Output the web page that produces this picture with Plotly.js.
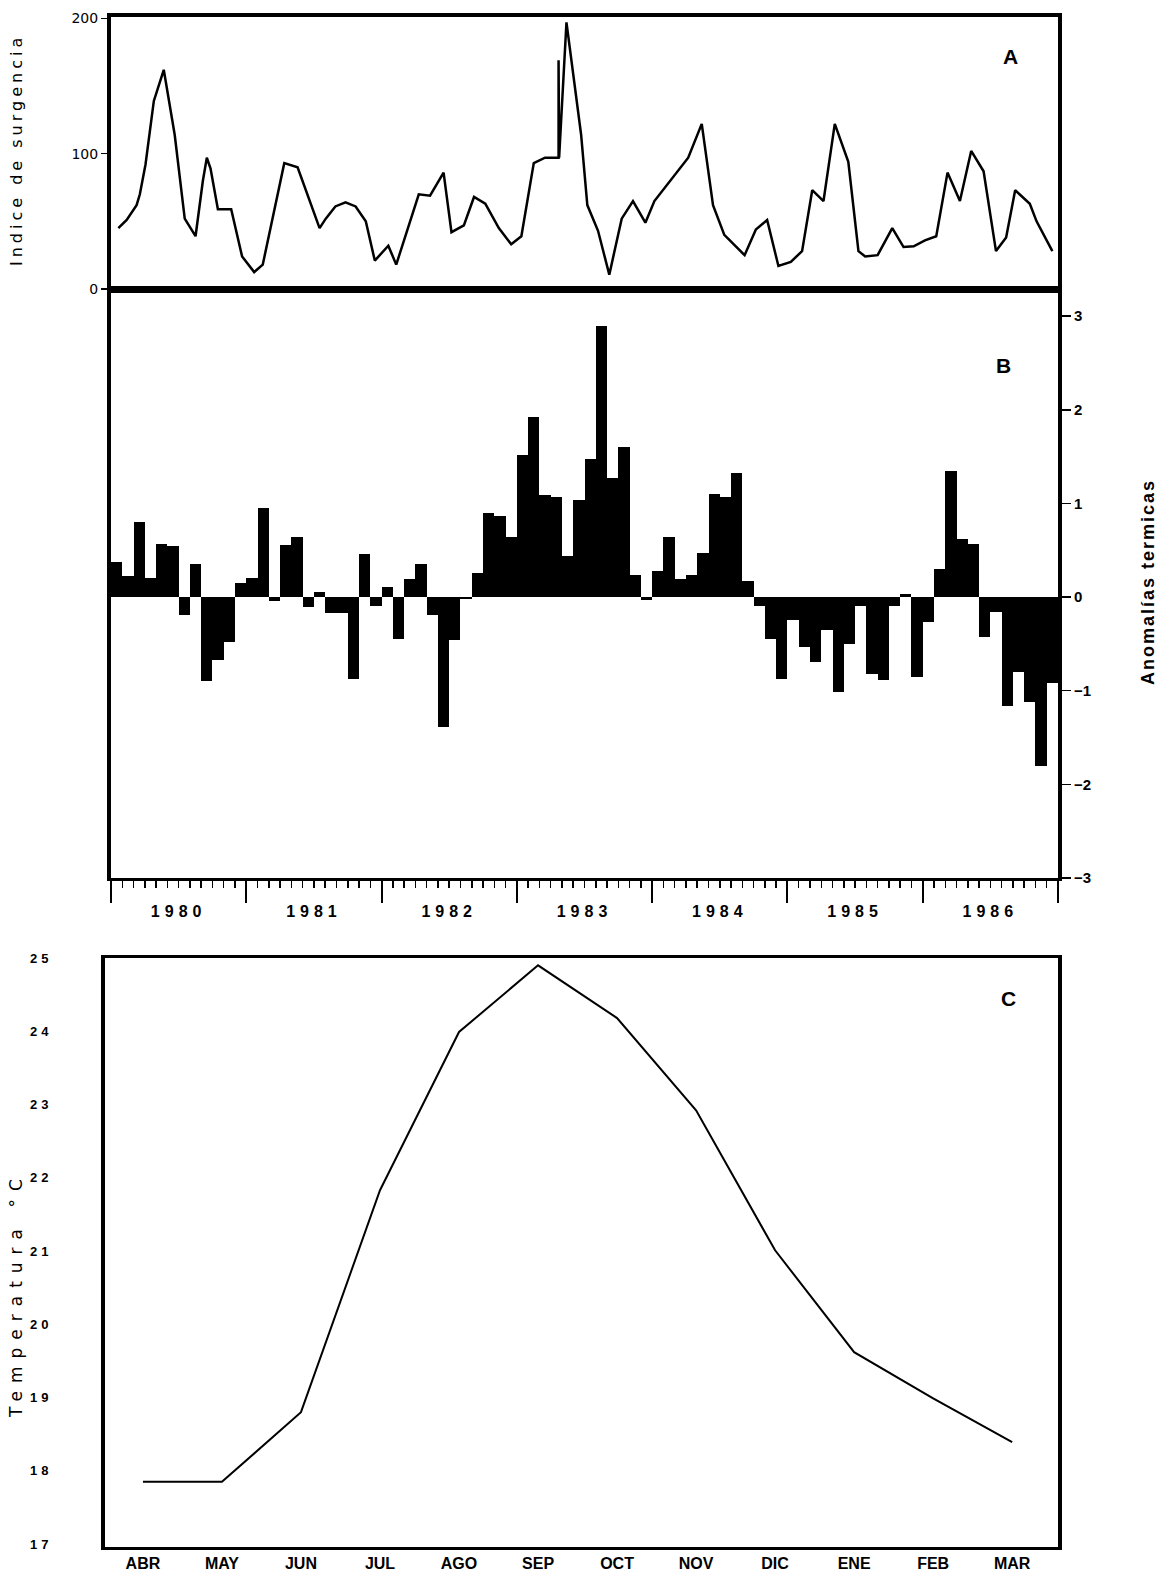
<!DOCTYPE html>
<html>
<head>
<meta charset="utf-8">
<script src="https://cdn.plot.ly/plotly-3.0.1.min.js"></script>
<style>html,body{margin:0;padding:0;background:#fff;}#chart{width:1163px;height:1574px;}</style>
</head>
<body>
<div id="chart"></div>
<script>
// ---- Panel A: upwelling index (time in months since Jan 1980, value)
const upwellingMonth = [0.65, 1.39, 2.27, 2.56, 3.06, 3.5, 3.8, 4.68, 5.65, 6.54, 7.5, 8.15, 8.5, 8.83, 9.48, 10.66, 11.63, 12.7, 13.46, 15.37, 16.55, 18.5, 19.05, 19.9, 20.8, 21.7, 22.6, 23.4, 24.6, 25.3, 27.3, 28.3, 29.5, 30.2, 31.3, 32.2, 33.2, 34.4, 35.5, 36.4, 37.5, 38.5, 39.4, 39.7, 39.7, 39.75, 40.4, 41.1, 41.7, 42.25, 43.2, 44.2, 45.3, 46.3, 47.4, 48.2, 50, 51.2, 52.4, 53.4, 54.4, 55.4, 56.2, 57.2, 58.2, 59.2, 60.3, 61.3, 62.2, 63.2, 64.2, 65.4, 66.3, 66.9, 68, 69.3, 70.3, 71.2, 72.2, 73.2, 74.2, 75.3, 76.3, 77.4, 78.5, 79.4, 80.2, 81.5, 82.1, 83.5];
const upwellingIndex = [45, 51, 62, 70, 92, 121, 139, 162, 114, 52, 39, 80, 97, 89, 59, 59, 24, 12.5, 18, 93, 90, 45, 52, 61, 64, 61, 50, 21, 32, 18, 70, 69, 86, 42, 47, 68, 63, 45, 33, 39, 93, 97, 97, 97, 169, 97, 197, 151, 114, 62, 43, 10.6, 52, 65, 49, 65, 84, 97, 122, 62, 40, 31.5, 25, 44, 51, 17, 20, 28, 73, 65, 122, 94, 28, 24, 25, 45, 31, 31.5, 36, 39, 86, 65, 102, 87, 28, 38, 73, 63, 50, 28];
const upwellingTicks = [0, 100, 200];

// ---- Panel B: monthly thermal anomalies, Jan 1980 .. Dec 1986
const anomalies = [
  0.37, 0.22, 0.80, 0.20, 0.57, 0.55, -0.19, 0.35, -0.90, -0.67, -0.48, 0.15,
  0.20, 0.95, -0.04, 0.56, 0.64, -0.11, 0.05, -0.17, -0.17, -0.87, 0.46, -0.10,
  0.11, -0.45, 0.19, 0.35, -0.19, -1.39, -0.46, -0.02, 0.26, 0.90, 0.87, 0.64,
  1.52, 1.92, 1.09, 1.07, 0.44, 1.04, 1.47, 2.89, 1.27, 1.60, 0.24, -0.03,
  0.28, 0.64, 0.19, 0.24, 0.47, 1.10, 1.07, 1.33, 0.17, -0.10, -0.45, -0.87,
  -0.24, -0.53, -0.69, -0.35, -1.01, -0.50, -0.09, -0.82, -0.89, -0.10, 0.03, -0.85,
  -0.27, 0.30, 1.35, 0.62, 0.57, -0.43, -0.16, -1.16, -0.80, -1.12, -1.80, -0.92
];
const years = ['1980', '1981', '1982', '1983', '1984', '1985', '1986'];
const anomalyTicks = [-3, -2, -1, 0, 1, 2, 3];
const anomalyTickText = ['\u22123', '\u22122', '\u22121', '0', '1', '2', '3'];

// ---- Panel C: mean monthly temperature
const months = ['ABR', 'MAY', 'JUN', 'JUL', 'AGO', 'SEP', 'OCT', 'NOV', 'DIC', 'ENE', 'FEB', 'MAR'];
const temperature = [17.85, 17.85, 18.80, 21.83, 23.99, 24.90, 24.18, 22.92, 21.01, 19.62, 18.99, 18.39];
const tempTicks = [17, 18, 19, 20, 21, 22, 23, 24, 25];

// ---- build
const W = 1163, H = 1574;
const fx = p => p / W;
const fy = p => 1 - p / H;

const barX = anomalies.map((v, i) => i + 0.5);
const yearCenters = years.map((y, i) => i * 12 + 6);
const yearBounds = years.map((y, i) => i * 12).concat([years.length * 12]);

const traces = [
  { type: 'scatter', mode: 'lines', x: upwellingMonth, y: upwellingIndex, xaxis: 'x3', yaxis: 'y',
    line: { color: '#000', width: 2.5 }, hoverinfo: 'skip', showlegend: false },
  { type: 'bar', x: barX, y: anomalies, xaxis: 'x', yaxis: 'y2', width: 1,
    marker: { color: '#000', line: { width: 0 } }, hoverinfo: 'skip', showlegend: false },
  { type: 'scatter', mode: 'lines', x: [], y: [], xaxis: 'x4', yaxis: 'y2', hoverinfo: 'skip', showlegend: false },
  { type: 'scatter', mode: 'lines', x: months, y: temperature, xaxis: 'x2', yaxis: 'y3',
    line: { color: '#000', width: 2 }, hoverinfo: 'skip', showlegend: false }
];

const tickFont = { family: 'DejaVu Sans', size: 14, color: '#000' };
const boldFont = (s) => ({ family: 'Liberation Sans', size: s, color: '#000', weight: 'bold' });

const layout = {
  width: W, height: H,
  margin: { l: 0, r: 0, t: 0, b: 0 },
  paper_bgcolor: '#fff', plot_bgcolor: '#fff',
  showlegend: false,
  bargap: 0,
  xaxis: {
    domain: [fx(111), fx(1058)], range: [0, 84], anchor: 'y2',
    showline: true, linecolor: '#000', linewidth: 3, mirror: true,
    showgrid: false, zeroline: false,
    tickmode: 'array', tickvals: yearBounds, ticks: 'outside', ticklen: 22, tickwidth: 2, tickcolor: '#000',
    showticklabels: false,
    minor: { ticks: 'outside', ticklen: 7, tickwidth: 1.5, tickcolor: '#000', tick0: 0, dtick: 1, showgrid: false }
  },
  xaxis4: {
    domain: [fx(111), fx(1058)], range: [0, 84], anchor: 'y2', overlaying: 'x',
    showline: false, showgrid: false, zeroline: false, ticks: '',
    tickmode: 'array', tickvals: yearCenters, ticktext: years,
    ticklabelstandoff: 22, tickfont: boldFont(16)
  },
  xaxis3: {
    domain: [fx(111), fx(1058)], range: [0, 84], anchor: 'y',
    showline: true, linecolor: '#000', linewidth: 4, mirror: true,
    showgrid: false, zeroline: false, ticks: '', showticklabels: false
  },
  yaxis: {
    domain: [fy(289), fy(17)], range: [0, 201], anchor: 'x3',
    showline: true, linecolor: '#000', linewidth: 4, mirror: true,
    showgrid: false, zeroline: false,
    tickmode: 'array', tickvals: upwellingTicks, ticktext: upwellingTicks.map(String),
    ticks: 'outside', ticklen: 6, tickwidth: 1.5, tickcolor: '#000', tickfont: tickFont
  },
  yaxis2: {
    domain: [fy(878), fy(289)], range: [-3.0, 3.29], anchor: 'x', side: 'right',
    showline: true, linecolor: '#000', linewidth: 4, mirror: true,
    showgrid: false, zeroline: false,
    tickmode: 'array', tickvals: anomalyTicks, ticktext: anomalyTickText,
    ticks: 'outside', ticklen: 9, tickwidth: 1.5, tickcolor: '#000', tickfont: boldFont(15)
  },
  xaxis2: {
    domain: [fx(105), fx(1058)], range: [-0.48, 11.58], anchor: 'y3', type: 'category',
    showline: true, linecolor: '#000', linewidth: 3, mirror: true,
    showgrid: false, zeroline: false, ticks: '', tickfont: boldFont(16)
  },
  yaxis3: {
    domain: [fy(1547), fy(958)], range: [16.96, 25], anchor: 'x2',
    showline: true, linecolor: '#000', linewidth: 4, mirror: true,
    showgrid: false, zeroline: false, ticks: '',
    tickmode: 'array', tickvals: tempTicks, ticktext: tempTicks.map(String),
    ticklabelstandoff: 46, tickfont: { family: 'Liberation Sans', size: 13, color: '#000', weight: 'bold' }
  },
  annotations: [
    { text: 'A', xref: 'paper', yref: 'paper', x: fx(1010), y: fy(57), xanchor: 'center', yanchor: 'middle', showarrow: false, font: boldFont(21) },
    { text: 'B', xref: 'paper', yref: 'paper', x: fx(1003), y: fy(366), xanchor: 'center', yanchor: 'middle', showarrow: false, font: boldFont(21) },
    { text: 'C', xref: 'paper', yref: 'paper', x: fx(1008), y: fy(998), xanchor: 'center', yanchor: 'middle', showarrow: false, font: boldFont(21) },
    { text: 'Indice de surgencia', xref: 'paper', yref: 'paper', x: fx(16), y: fy(150), textangle: -90,
      xanchor: 'center', yanchor: 'middle', showarrow: false, font: { family: 'DejaVu Sans', size: 16, color: '#000' } },
    { text: 'Anomalías termicas', xref: 'paper', yref: 'paper', x: fx(1148), y: fy(582), textangle: -90,
      xanchor: 'center', yanchor: 'middle', showarrow: false, font: boldFont(18) },
    { text: 'Temperatura °C', xref: 'paper', yref: 'paper', x: fx(16), y: fy(1295), textangle: -90,
      xanchor: 'center', yanchor: 'middle', showarrow: false, font: { family: 'DejaVu Sans', size: 17, color: '#000' } }
  ]
};

Plotly.newPlot('chart', traces, layout, { staticPlot: true, displayModeBar: false }).then(gd => {
  // widen letter spacing to imitate the typewritten look of the original
  const spacing = { 'Indice de surgencia': '4px', 'Anomalías termicas': '2px', 'Temperatura °C': '8px' };
  gd.querySelectorAll('.annotation-text').forEach(t => {
    const s = spacing[t.textContent];
    if (s) t.style.letterSpacing = s;
  });
  gd.querySelectorAll('g.x4tick text').forEach(t => { t.style.letterSpacing = '5px'; });
  gd.querySelectorAll('g.y3tick text').forEach(t => { t.style.letterSpacing = '4px'; });
});
</script>
</body>
</html>
